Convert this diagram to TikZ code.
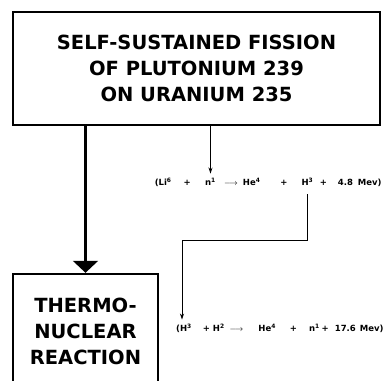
\documentclass[tikz,border=0pt]{standalone}
\usepackage{fontspec}
\newfontfamily\lettering{DejaVu Sans}
\usetikzlibrary{arrows.meta,positioning}

\begin{document}
\begin{tikzpicture}[
  x=1pt, y=-1pt,
  box/.style={draw, line width=2.4pt, align=center, inner sep=0pt,
              font=\lettering\bfseries\fontsize{19.5}{26}\selectfont},
  eqpart/.style={inner sep=0pt, text height=7pt, text depth=1.5pt,
                 font=\lettering\bfseries\fontsize{8.5}{9}\selectfont},
  heavy/.style={line width=2.2pt, -{Triangle[width=25pt,length=12pt]}},
  line/.style={line width=1pt, -{Stealth[width=4pt,length=6pt]}}
]
\clip (0,0) rectangle (385,380);

% ===== boxes =====
\node[box, minimum width=367pt, minimum height=113pt] (fission) at (196.5,68.5)
  {SELF-SUSTAINED FISSION\\OF PLUTONIUM 239\\ON URANIUM 235};
\node[box, minimum width=145pt, minimum height=114pt] (thermo) at (85.5,331)
  {THERMO-\\NUCLEAR\\REACTION};

% ----- first reaction, split where the arrows meet it -----
\node[eqpart] (n1) at (210.5,183) {n\textsuperscript{1}};
\node[eqpart] (h3) at (307.5,183) {H\textsuperscript{3}};
\node[eqpart, left=14pt of n1] (li6) {(Li\textsuperscript{6}\hspace{12pt}+};
\node[eqpart, right=8pt of n1] (yield1) {$\longrightarrow$\hspace{5pt}He\textsuperscript{4}\hspace{20pt}+};
\node[eqpart, right=6pt of h3] (gain1) {+\hspace{11pt}4.8\hspace{5pt}Mev)};

% ----- second reaction -----
\node[eqpart, anchor=west] (eq2) at (176,329)
  {(H\textsuperscript{3}\hspace{11pt}+\hspace{3pt}H\textsuperscript{2}\hspace{5pt}$\longrightarrow$\hspace{15pt}He\textsuperscript{4}\hspace{14pt}+\hspace{12pt}n\textsuperscript{1}\hspace{2pt}+\hspace{6pt}17.6\hspace{4pt}Mev)};

% ===== connectors =====
\draw[heavy] (fission.south -| thermo.north) -- (thermo.north);
\draw[line, shorten >=5pt] (fission.south -| n1.north) -- (n1.north);
\draw[line, shorten <=7pt, shorten >=5pt] (h3.south) -- ++(0,53) -| ([xshift=6pt]eq2.north west);
\end{tikzpicture}
\end{document}
